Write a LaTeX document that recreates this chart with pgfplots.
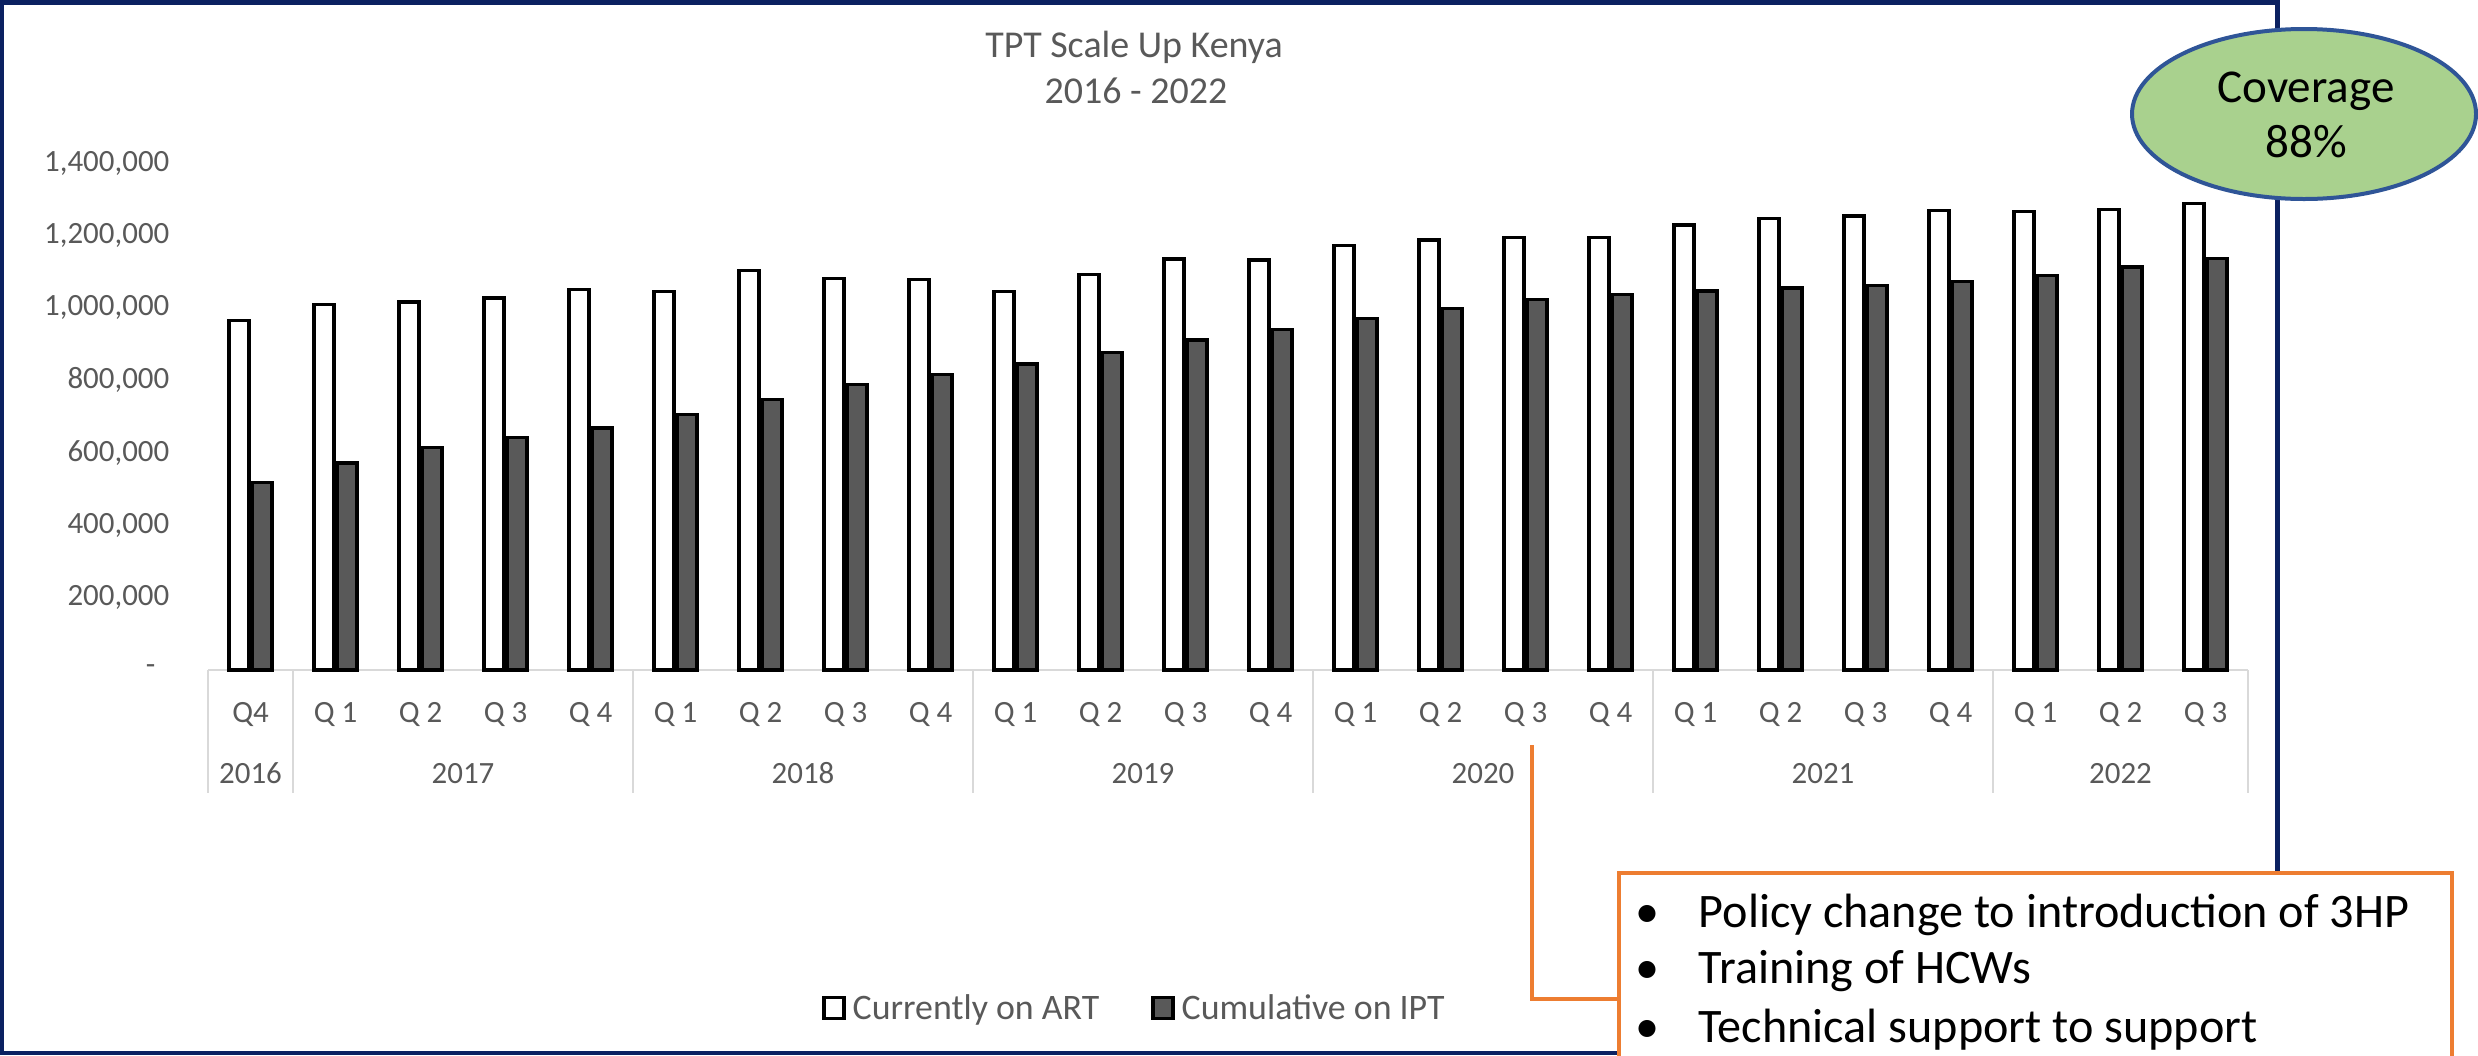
\documentclass[border=0pt]{standalone}
\usepackage{pgfplots}
\pgfplotsset{compat=1.18}
\usepackage{fontspec}
\setmainfont{Carlito}
\definecolor{framenavy}{HTML}{0B2161}
\definecolor{txtgrey}{HTML}{595959}
\definecolor{axgrey}{HTML}{D9D9D9}
\definecolor{iptgrey}{HTML}{595959}
\definecolor{covgreen}{HTML}{A9D18E}
\definecolor{covblue}{HTML}{2F5597}
\definecolor{boxorange}{HTML}{ED7D31}
\tikzset{yearlab/.style={anchor=base,inner sep=0pt,text=txtgrey,font=\fontsize{8.8}{10.5}\selectfont},
  boxtxt/.style={inner sep=0pt,font=\fontsize{13.7}{16}\selectfont}}
\begin{document}
\begin{tikzpicture}
% outer frame
\draw[framenavy,line width=0.045cm] (0.02,0.02) rectangle (22.775,10.525);
% title
\node[anchor=base,text=txtgrey,font=\fontsize{10.8}{13}\selectfont] at (11.34,9.98) {TPT Scale Up Kenya};
\node[anchor=base,text=txtgrey,font=\fontsize{10.8}{13}\selectfont] at (11.36,9.52) {2016 - 2022};
\begin{axis}[
  at={(2.08cm,3.85cm)},anchor=south west,
  width=20.40cm,height=5.07cm,scale only axis,
  xmin=-0.5,xmax=23.5,ymin=0,ymax=1400000,
  axis x line*=bottom,axis y line*=left,
  x axis line style={axgrey,line width=0.02cm},
  y axis line style={draw=none},
  major tick length=0pt,
  ybar=0.03cm,bar width=0.2cm,
  xtick={0,...,23},
  xticklabels={Q4,Q 1,Q 2,Q 3,Q 4,Q 1,Q 2,Q 3,Q 4,Q 1,Q 2,Q 3,Q 4,Q 1,Q 2,Q 3,Q 4,Q 1,Q 2,Q 3,Q 4,Q 1,Q 2,Q 3},
  xticklabel style={anchor=base,inner sep=0pt,yshift=-0.52cm,text=txtgrey,font=\fontsize{8.8}{10.5}\selectfont},
  ytick={0,200000,400000,600000,800000,1000000,1200000,1400000},
  yticklabels={{-\hspace*{0.14cm}},{200,000},{400,000},{600,000},{800,000},{1,000,000},{1,200,000},{1,400,000}},
  yticklabel style={anchor=east,inner sep=0pt,xshift=-0.38cm,text=txtgrey,font=\fontsize{8.8}{10.5}\selectfont},
  scaled ticks=false,clip=false,
  legend columns=2,
  legend style={at={(0.4554,-0.669)},anchor=center,draw=none,fill=none,
    font=\fontsize{10.2}{12}\selectfont,text=txtgrey,
    /tikz/every even column/.append style={column sep=0.45cm}},
  legend image code/.code={\draw[#1,line width=0.033cm] (0cm,-0.09cm) rectangle (0.2cm,0.12cm);},
]
\addplot[draw=black,fill=white,line width=0.033cm] coordinates {
(0,964500) (1,1009000) (2,1016000) (3,1027000) (4,1050000) (5,1046000)
(6,1104000) (7,1081000) (8,1078000) (9,1046000) (10,1093000) (11,1135000)
(12,1132000) (13,1172000) (14,1187000) (15,1195000) (16,1195000) (17,1229000)
(18,1246000) (19,1254000) (20,1269000) (21,1267000) (22,1272000) (23,1289000)};
\addlegendentry{Currently on ART}
\addplot[draw=black,fill=iptgrey,line width=0.033cm] coordinates {
(0,517900) (1,572000) (2,614000) (3,642500) (4,668000) (5,705000)
(6,747000) (7,788000) (8,816000) (9,845000) (10,876000) (11,911000)
(12,941000) (13,971000) (14,998000) (15,1024000) (16,1037000) (17,1047000)
(18,1055000) (19,1061000) (20,1072000) (21,1090000) (22,1113000) (23,1136000)};
\addlegendentry{Cumulative on IPT}
% year dividers
\pgfplotsinvokeforeach{-0.5,0.5,4.5,8.5,12.5,16.5,20.5,23.5}{
  \draw[axgrey,line width=0.02cm] (axis cs:#1,0) -- ([yshift=-1.23cm]axis cs:#1,0);
}
% year labels
\node[yearlab] at ([yshift=-1.13cm]axis cs:0,0) {2016};
\node[yearlab] at ([yshift=-1.13cm]axis cs:2.5,0) {2017};
\node[yearlab] at ([yshift=-1.13cm]axis cs:6.5,0) {2018};
\node[yearlab] at ([yshift=-1.13cm]axis cs:10.5,0) {2019};
\node[yearlab] at ([yshift=-1.13cm]axis cs:14.5,0) {2020};
\node[yearlab] at ([yshift=-1.13cm]axis cs:18.5,0) {2021};
\node[yearlab] at ([yshift=-1.13cm]axis cs:22,0) {2022};
\end{axis}
% coverage bubble
\draw[covblue,fill=covgreen,line width=0.04cm] (23.04,9.41) ellipse [x radius=1.72,y radius=0.85];
\node[anchor=base,font=\fontsize{13.4}{15}\selectfont] at (23.06,9.53) {Coverage};
\node[anchor=base,font=\fontsize{13.4}{15}\selectfont] at (23.06,8.98) {88\%};
% orange connector and box
\draw[boxorange,line width=0.045cm] (15.32,3.10) -- (15.32,0.56) -- (16.19,0.56);
\draw[boxorange,fill=white,line width=0.045cm] (16.19,1.82) rectangle (24.52,-0.6);
\node[boxtxt,anchor=base] at (16.47,1.28) {\textbullet};
\node[boxtxt,anchor=base west] at (16.98,1.28) {Policy change to introduction of 3HP};
\node[boxtxt,anchor=base] at (16.47,0.72) {\textbullet};
\node[boxtxt,anchor=base west] at (16.98,0.72) {Training of HCWs};
\node[boxtxt,anchor=base] at (16.47,0.13) {\textbullet};
\node[boxtxt,anchor=base west] at (16.98,0.13) {Technical support to support};
\pgfresetboundingbox
\useasboundingbox (0,0) rectangle (24.78,10.55);
\end{tikzpicture}
\end{document}
